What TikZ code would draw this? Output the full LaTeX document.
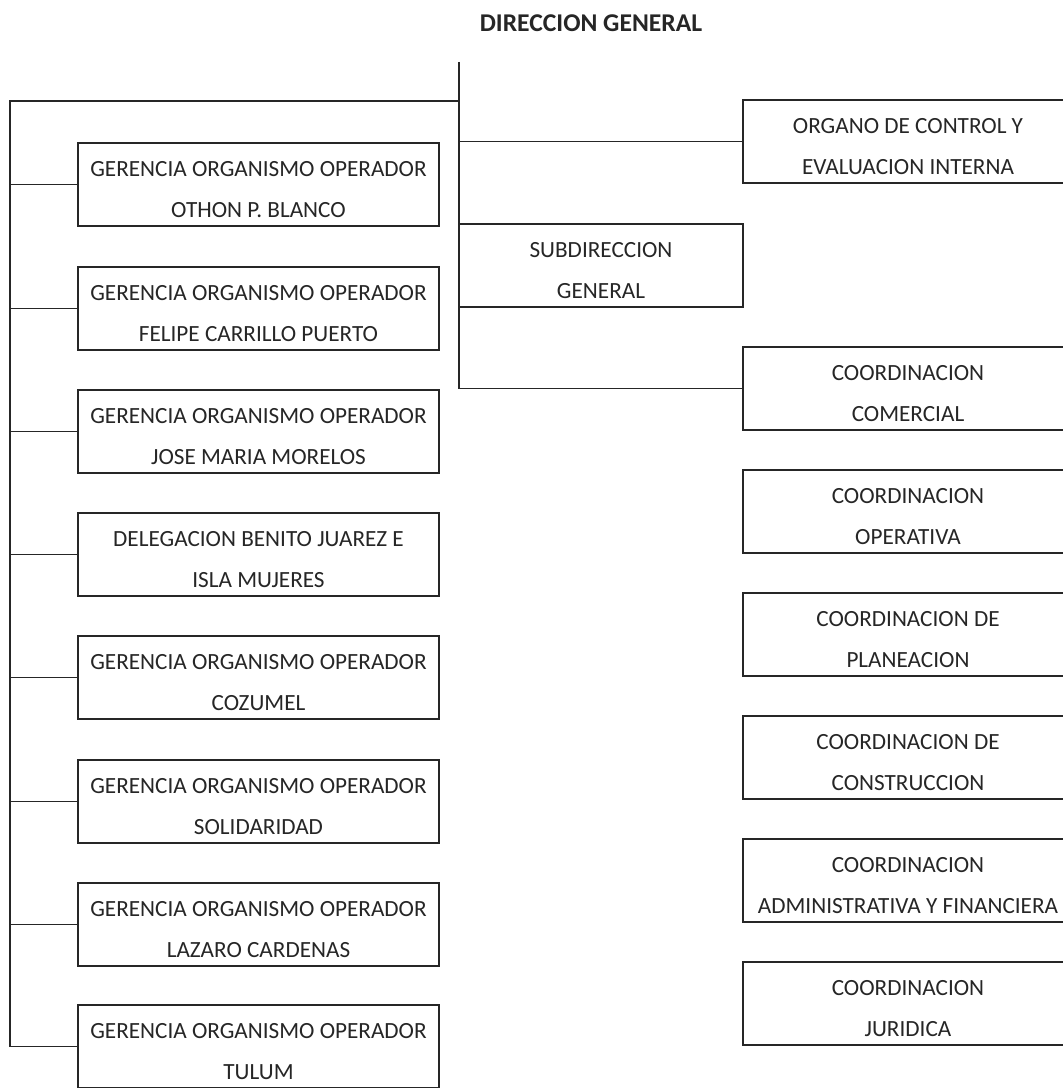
\documentclass[tikz,border=0pt]{standalone}
\usepackage{fontspec}
\setmainfont{Carlito}
\usepackage{tikz}

\begin{document}
\begin{tikzpicture}[x=0.75pt,y=-0.75pt,
	linea/.style={draw=black!85, line width=0.8pt},
	caja/.style={linea, rectangle, align=center, text=black!85,
		font=\fontsize{17.4}{30.75}\selectfont,
		text height=49.5pt, text depth=0pt, inner sep=0pt, minimum height=62.25pt},
	izq/.style={caja, minimum width=270.75pt},
	der/.style={caja, minimum width=247.5pt}]
	%\draw (0,0) rectangle (1063,1088);
	\clip (0,0) rectangle (1063,1088);
	\fill[white] (0,0) rectangle (1063,1088);

	\node[anchor=base, text=black!85, font=\fontsize{19.2}{22}\selectfont\bfseries] (dg) at (591,32) {DIRECCION GENERAL};
	\coordinate (dgtop) at (459,62);
	\coordinate (izqtop) at (10,101);

	\foreach \n/\y/\txt in {1/184.5/{GERENCIA ORGANISMO OPERADOR\\OTHON P. BLANCO},
			2/308.5/{GERENCIA ORGANISMO OPERADOR\\FELIPE CARRILLO PUERTO},
			3/431.5/{GERENCIA ORGANISMO OPERADOR\\JOSE MARIA MORELOS},
			4/554.5/{DELEGACION BENITO JUAREZ E\\ISLA MUJERES},
			5/677.5/{GERENCIA ORGANISMO OPERADOR\\COZUMEL},
			6/801.5/{GERENCIA ORGANISMO OPERADOR\\SOLIDARIDAD},
			7/924.5/{GERENCIA ORGANISMO OPERADOR\\LAZARO CARDENAS},
			8/1046.5/{GERENCIA ORGANISMO OPERADOR\\TULUM}}
		\node[izq] (g\n) at (258.5,\y) {\txt};

	\node[der] (org) at (908,141.5) {ORGANO DE CONTROL Y\\EVALUACION INTERNA};
	\node[caja, minimum width=213pt] (sub) at (601,265.5) {SUBDIRECCION\\GENERAL};

	\foreach \n/\y/\txt in {1/388.5/{COORDINACION\\COMERCIAL},
			2/511.5/{COORDINACION\\OPERATIVA},
			3/634.5/{COORDINACION DE\\PLANEACION},
			4/757.5/{COORDINACION DE\\CONSTRUCCION},
			5/880.5/{COORDINACION\\ADMINISTRATIVA Y FINANCIERA},
			6/1003.5/{COORDINACION\\JURIDICA}}
		\node[der] (c\n) at (908,\y) {\txt};

	\draw[linea] (dgtop) -- (dgtop |- c1.west) -- (c1.west);
	\draw[linea] (org.west -| dgtop) -- (org.west);
	\draw[linea] (dgtop |- izqtop) -- (izqtop) -- (izqtop |- g8.west);
	\foreach \n in {1,...,8}
		\draw[linea] (g\n.west -| izqtop) -- (g\n.west);

\end{tikzpicture}
\end{document}
